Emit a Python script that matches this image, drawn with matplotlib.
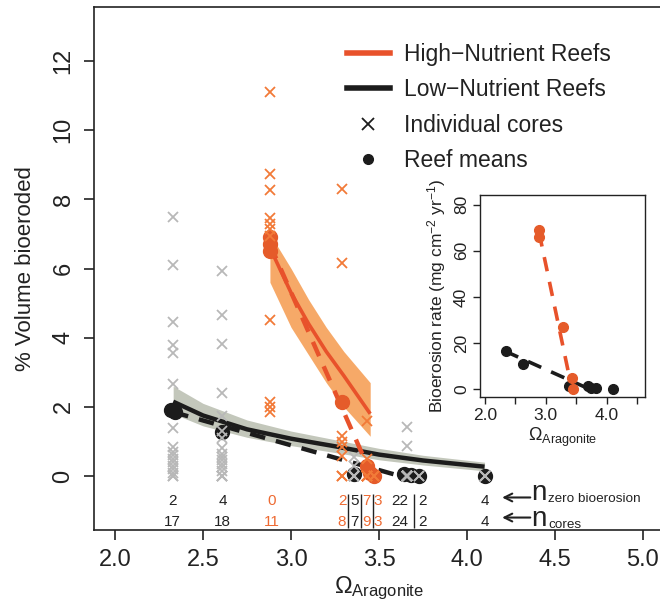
import matplotlib
matplotlib.use("Agg")
import matplotlib.pyplot as plt
from matplotlib.lines import Line2D

plt.rcParams['font.family'] = ['Liberation Sans', 'DejaVu Sans']
plt.rcParams['mathtext.fontset'] = 'custom'
plt.rcParams['mathtext.rm'] = 'Liberation Sans'
plt.rcParams['mathtext.it'] = 'Liberation Sans:italic'
plt.rcParams['mathtext.bf'] = 'Liberation Sans:bold'

# ---------------- data ----------------
group_x = [2.33, 2.61, 2.88, 3.29, 3.36, 3.43, 3.47, 3.66, 3.73, 4.10]
label_x = [2.325, 2.61, 2.89, 3.29, 3.36, 3.43, 3.495, 3.62, 3.745, 4.10]
group_nutrient = ['low', 'low', 'high', 'high', 'low', 'high', 'high', 'low', 'low', 'low']
n_zero = [2, 4, 0, 2, 5, 7, 3, 22, 2, 4]
n_cores = [17, 18, 11, 8, 7, 9, 3, 24, 2, 4]

cores_233 = [7.5, 6.1, 4.45, 3.8, 3.55, 2.65, 1.4, 0.85, 0.7, 0.6, 0.5, 0.4, 0.3, 0.2, 0.1, 0.0, 0.0]
cores_261 = [5.93, 4.67, 3.83, 2.4, 1.75, 1.3, 1.1, 0.8, 0.65, 0.55, 0.45, 0.35, 0.25, 0.15, 0.0, 0.0, 0.0, 0.0]
cores_288 = [11.1, 8.72, 8.26, 7.45, 7.3, 7.15, 6.95, 4.5, 2.15, 2.0, 1.85]
cores_329 = [8.3, 6.17, 1.15, 0.97, 0.83, 0.57, 0.0, 0.0]
cores_336 = [0.55, 0.3, 0.0, 0.0, 0.0, 0.0, 0.0]
cores_343 = [1.6, 0.5, 0.0, 0.0, 0.0, 0.0, 0.0, 0.0, 0.0]
cores_347 = [0.0, 0.0, 0.0]
cores_366 = [1.43, 0.88, 0.0, 0.0, 0.0, 0.0, 0.0, 0.0, 0.0, 0.0, 0.0, 0.0, 0.0,
             0.0, 0.0, 0.0, 0.0, 0.0, 0.0, 0.0, 0.0, 0.0, 0.0, 0.0]
cores_373 = [0.0, 0.0]
cores_410 = [0.0, 0.0, 0.0, 0.0]
cores_by_group = [cores_233, cores_261, cores_288, cores_329, cores_336,
                  cores_343, cores_347, cores_366, cores_373, cores_410]

mean_x_low = [2.32, 2.34, 2.61, 3.36, 3.64, 3.68, 3.73, 4.10]
mean_y_low = [1.9, 1.85, 1.26, 0.05, 0.05, 0.03, 0.0, 0.0]
mean_x_high = [2.88, 2.88, 2.88, 3.29, 3.43, 3.45, 3.47]
mean_y_high = [6.9, 6.7, 6.5, 2.15, 0.3, 0.1, 0.0]

low_fit_x = [2.33, 2.5, 2.75, 3.0, 3.25, 3.5, 3.75, 4.1]
low_fit_y = [2.15, 1.75, 1.35, 1.08, 0.86, 0.62, 0.45, 0.27]
low_fit_lo = [1.8, 1.45, 1.12, 0.88, 0.68, 0.47, 0.32, 0.15]
low_fit_hi = [2.6, 2.1, 1.62, 1.3, 1.05, 0.8, 0.6, 0.4]
low_lin_x = [2.33, 3.62]
low_lin_y = [1.85, 0.0]

high_fit_x = [2.88, 3.0, 3.1, 3.2, 3.3, 3.45]
high_fit_y = [6.6, 5.3, 4.4, 3.6, 2.9, 1.8]
high_fit_lo = [5.6, 4.3, 3.5, 2.7, 2.0, 1.15]
high_fit_hi = [7.0, 6.0, 5.1, 4.3, 3.6, 2.7]
high_lin_x = [2.88, 3.46]
high_lin_y = [6.7, 0.0]

sep_x = [3.326, 3.397, 3.464, 3.697]

ins_low_x = [2.34, 2.62, 3.38, 3.69, 3.75, 3.82, 4.11]
ins_low_y = [16.5, 11.0, 1.3, 1.3, 0.3, 0.3, 0.0]
ins_high_x = [2.89, 2.89, 3.28, 3.43, 3.44]
ins_high_y = [69.0, 66.0, 27.0, 5.0, 0.0]
ins_low_lin_x = [2.33, 3.72]
ins_low_lin_y = [16.5, 0.0]
ins_high_lin_x = [2.89, 3.43]
ins_high_lin_y = [68.0, 0.0]

main_xticks = [2.0, 2.5, 3.0, 3.5, 4.0, 4.5, 5.0]
main_yticks = [0, 2, 4, 6, 8, 10, 12]
ins_xticks = [2.0, 2.5, 3.0, 3.5, 4.0, 4.5]
ins_xticklabels = ['2.0', '', '3.0', '', '4.0', '']
ins_yticks = [0, 20, 40, 60, 80]

# ---------------- style ----------------
OR_LINE = '#E8522B'
OR_BAND = '#F6A058'
OR_PT = '#E55B2A'
OR_X = '#F27A38'
OR_TXT = '#EE6A32'
GR_X = '#B8B8B8'
GR_BAND = '#C3C7BB'
BLK = '#1c1c1c'
TXT = '#222222'

fig = plt.figure(figsize=(6.6, 6.1), dpi=100)
ax = fig.add_axes([94 / 660, 80 / 610, 570 / 660, 523 / 610])
ax.set_xlim(1.88, 5.12)
ax.set_ylim(-1.56, 13.56)

# bands and fits
ax.fill_between(low_fit_x, low_fit_lo, low_fit_hi, color=GR_BAND, lw=0, zorder=1)
ax.fill_between(high_fit_x, high_fit_lo, high_fit_hi, color=OR_BAND, alpha=0.9, lw=0, zorder=1)
ax.plot(low_fit_x, low_fit_y, color=BLK, lw=3.2, zorder=3, solid_capstyle='butt')
ax.plot(high_fit_x, high_fit_y, color=OR_LINE, lw=2.6, zorder=3, solid_capstyle='butt')
ax.plot(low_lin_x, low_lin_y, color=BLK, lw=3.2, ls=(0, (3.5, 2.5)), zorder=3)
ax.plot(high_lin_x, high_lin_y, color=OR_LINE, lw=3.2, ls=(0, (3.5, 2.5)), zorder=3)

# reef means
ax.plot(mean_x_low, mean_y_low, 'o', color=BLK, ms=10, zorder=4)
ax.plot(mean_x_high, mean_y_high, 'o', color=OR_PT, ms=10, zorder=4)

# individual cores
for gx, kind, vals in zip(group_x, group_nutrient, cores_by_group):
    col = OR_X if kind == 'high' else GR_X
    ax.plot([gx] * len(vals), vals, 'x', color=col, ms=7, mew=1.3, zorder=5)

# counts
for lx, kind, nz, nc in zip(label_x, group_nutrient, n_zero, n_cores):
    col = OR_TXT if kind == 'high' else TXT
    ax.text(lx, -0.72, str(nz), color=col, fontsize=11, ha='center', va='center')
    ax.text(lx, -1.32, str(nc), color=col, fontsize=11, ha='center', va='center')
ax.vlines(sep_x, -1.5, -0.52, color=TXT, lw=1.0)

for yy in (-0.62, -1.2):
    ax.annotate('', xy=(4.20, yy), xytext=(4.36, yy),
                arrowprops=dict(arrowstyle='->', color=TXT, lw=1.5,
                                mutation_scale=14, shrinkA=0, shrinkB=0))
ax.text(4.365, -0.69, 'n', fontsize=20, color=TXT, ha='left', va='baseline')
ax.text(4.46, -0.75, 'zero bioerosion', fontsize=9.7, color=TXT, ha='left', va='baseline')
ax.text(4.365, -1.43, 'n', fontsize=20, color=TXT, ha='left', va='baseline')
ax.text(4.46, -1.49, 'cores', fontsize=9.7, color=TXT, ha='left', va='baseline')

ax.set_xticks(main_xticks)
ax.set_xticklabels([f'{v:.1f}' for v in main_xticks])
ax.set_yticks(main_yticks)
ax.set_yticklabels([str(v) for v in main_yticks])
ax.tick_params(axis='both', direction='out', length=7, width=1.2, labelsize=17,
               colors=TXT, pad=7)
ax.tick_params(axis='y', labelrotation=90)
for lab in ax.get_yticklabels():
    lab.set_va('center')
for sp in ax.spines.values():
    sp.set_linewidth(1.2)
    sp.set_color(TXT)

ax.set_xlabel(r'$\Omega_{\mathrm{Aragonite}}$', fontsize=17, color=TXT, labelpad=2)
ax.set_ylabel('% Volume bioeroded', fontsize=16, color=TXT, labelpad=12)

handles = [Line2D([], [], color=OR_LINE, lw=4),
           Line2D([], [], color=BLK, lw=4),
           Line2D([], [], color=BLK, marker='x', ls='none', ms=8, mew=1.3),
           Line2D([], [], color=BLK, marker='o', ls='none', ms=7)]
labels = ['High\u2212Nutrient Reefs', 'Low\u2212Nutrient Reefs', 'Individual cores', 'Reef means']
leg = ax.legend(handles, labels, loc='upper left', bbox_to_anchor=(0.443, 0.932),
                frameon=False, fontsize=16.5, handlelength=1.9, handletextpad=0.6,
                labelspacing=0.55, borderpad=0, borderaxespad=0)
for t in leg.get_texts():
    t.set_color(TXT)

# ---------------- inset ----------------
ins = fig.add_axes([480 / 660, 213 / 610, 165 / 660, 202 / 610])
ins.set_facecolor('white')
ins.set_xlim(1.92, 4.63)
ins.set_ylim(-3.4, 84.2)
ins.plot(ins_low_lin_x, ins_low_lin_y, color=BLK, lw=2.6, ls=(0, (4, 3)))
ins.plot(ins_high_lin_x, ins_high_lin_y, color=OR_LINE, lw=2.6, ls=(0, (4, 3)))
ins.plot(ins_low_x, ins_low_y, 'o', color=BLK, ms=7)
ins.plot(ins_high_x, ins_high_y, 'o', color=OR_PT, ms=7)
ins.set_xticks(ins_xticks)
ins.set_xticklabels(ins_xticklabels)
ins.set_yticks(ins_yticks)
ins.set_yticklabels([str(v) for v in ins_yticks])
ins.tick_params(axis='both', direction='out', length=5, width=1.0, labelsize=12.5,
                colors=TXT, pad=3)
ins.tick_params(axis='y', labelrotation=90)
for lab in ins.get_yticklabels():
    lab.set_va('center')
for sp in ins.spines.values():
    sp.set_linewidth(1.0)
    sp.set_color(TXT)
ins.set_xlabel(r'$\Omega_{\mathrm{Aragonite}}$', fontsize=13, color=TXT, labelpad=2)
ins.set_ylabel(r'Bioerosion rate (mg cm$^{-2}$ yr$^{-1}$)', fontsize=12.5, color=TXT, labelpad=4)

fig.savefig('out.png', dpi=100)
